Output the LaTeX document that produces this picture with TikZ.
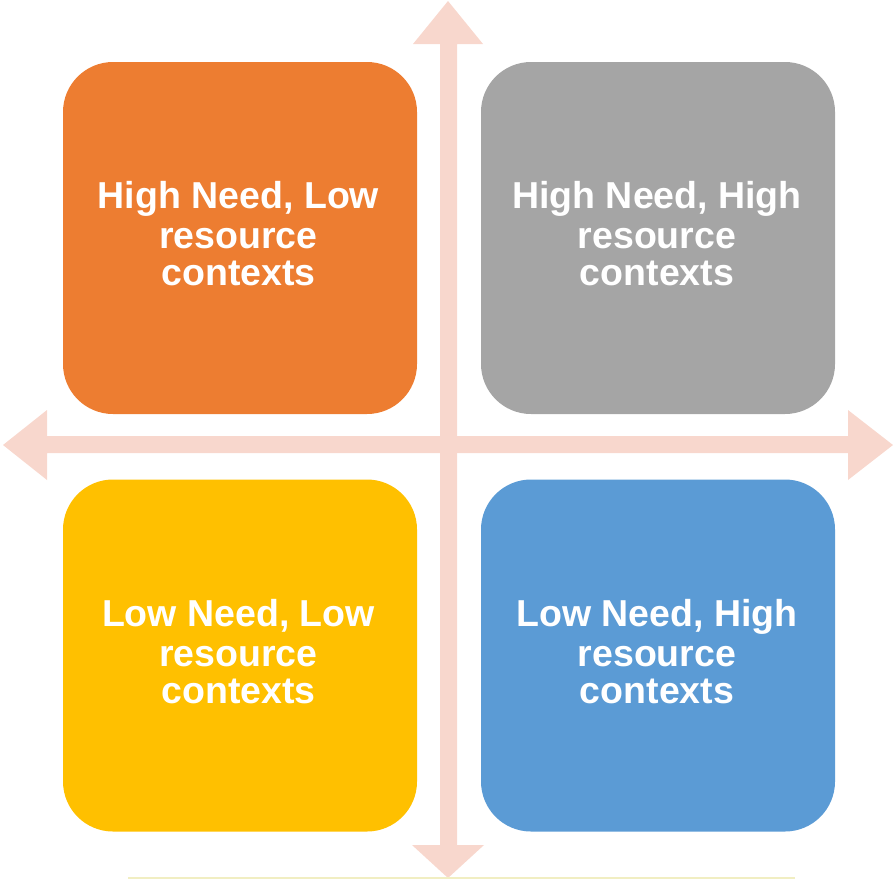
\documentclass[tikz,border=0pt]{standalone}
\usepackage{fontspec}
\setmainfont{Liberation Sans}
\begin{document}
\begin{tikzpicture}[x=1pt,y=-1pt,
  quad/.style={rounded corners=50pt,minimum width=354pt,minimum height=352pt,inner sep=0pt},
  qtext/.style={align=center,text=white,inner sep=0pt,font=\fontsize{37.5}{37}\selectfont\bfseries},
  axis/.style={fill=axiscol,draw=none}]
\definecolor{axiscol}{HTML}{F8D7CD}
\definecolor{qorange}{HTML}{ED7D31}
\definecolor{qgray}{HTML}{A5A5A5}
\definecolor{qyellow}{HTML}{FFC000}
\definecolor{qblue}{HTML}{5B9BD5}
\definecolor{strip}{HTML}{F1EEC2}
\useasboundingbox (0,0) rectangle (896,879);
% axes
\fill[axiscol] (440,44) -- (413,44) -- (448,1) -- (483,44) -- (457,44) -- (457,845) -- (484,845) -- (448,878) -- (412,845) -- (440,845) -- cycle;
\fill[axiscol] (47,436) -- (47,410) -- (3,445) -- (47,480) -- (47,453) -- (848,453) -- (848,480) -- (893,445) -- (848,410) -- (848,436) -- cycle;
% quadrants
\node[quad,fill=qorange] (hl) at (240,238) {};
\node[quad,fill=qgray] (hh) at (658,238) {};
\node[quad,fill=qyellow] (ll) at (240,655.5) {};
\node[quad,fill=qblue] (lh) at (658,655.5) {};
\node[qtext] (hlt) at (238.5,234) {High Need, Low\\[3pt]resource\\contexts};
\node[qtext] (hht) at (657,234) {High Need, High\\[3pt]resource\\contexts};
\node[qtext] (llt) at (238.5,651.5) {Low Need, Low\\[3pt]resource\\contexts};
\node[qtext] (lht) at (657,651.5) {Low Need, High\\[3pt]resource\\contexts};
% bottom strip
\fill[strip] (128,877) rectangle (795,879);
\end{tikzpicture}
\end{document}
